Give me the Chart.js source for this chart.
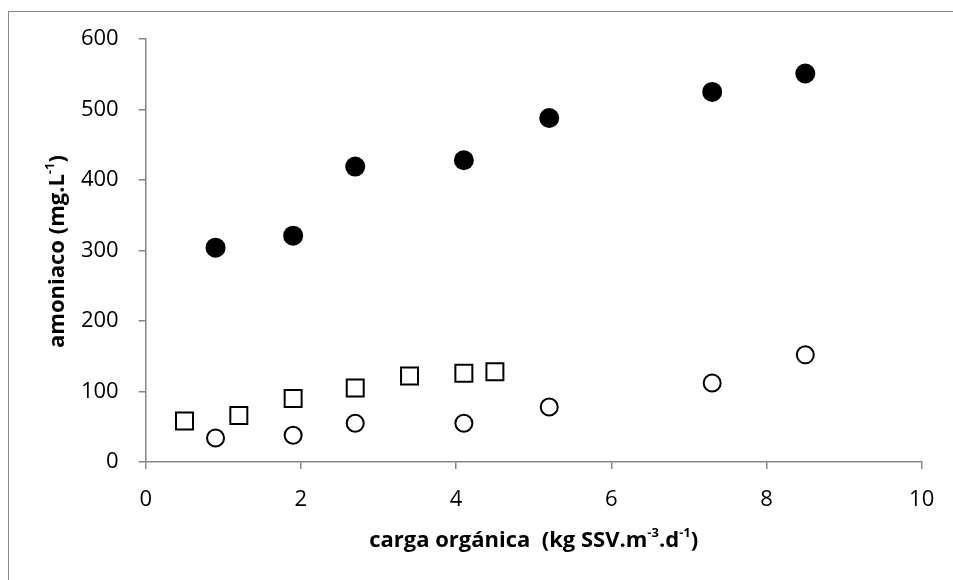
<!DOCTYPE html>
<html>
<head>
<meta charset="utf-8">
<script src="https://cdn.jsdelivr.net/npm/chart.js@4"></script>
<style>
  html, body { margin: 0; padding: 0; background: #fff; overflow: hidden; }
  #wrap { position: relative; width: 953px; height: 580px; }
  #marco { position: absolute; left: 8px; top: 11px; width: 980px; height: 620px; border: 1px solid #8a8a8a; box-sizing: border-box; }
  canvas { position: absolute; left: 0; top: 0; }
</style>
</head>
<body>
<div id="wrap">
  <div id="marco"></div>
  <canvas id="amoniacoChart" width="953" height="580"></canvas>
</div>
<script>
// carga orgánica (kg SSV.m-3.d-1) y amoniaco (mg/L)
const cargaLleno = [0.9, 1.9, 2.7, 4.1, 5.2, 7.3, 8.5];
const amoniacoLleno = [304, 321, 419, 428, 488, 525, 551];

const cargaVacio = [0.9, 1.9, 2.7, 4.1, 5.2, 7.3, 8.5];
const amoniacoVacio = [34, 38, 55, 55, 78, 112, 152];

const cargaCuadro = [0.5, 1.2, 1.9, 2.7, 3.4, 4.1, 4.5];
const amoniacoCuadro = [58, 66, 90, 105, 122, 126, 128];

const ejeX = { min: 0, max: 10, paso: 2 };
const ejeY = { min: 0, max: 600, paso: 100 };

// títulos con superíndices: [texto, esSuperindice]
const tituloX = [['carga orgánica  (kg SSV.m', false], ['-3', true], ['.d', false], ['-1', true], [')', false]];
const tituloY = [['amoniaco (mg.L', false], ['-1', true], [')', false]];

const puntos = (xs, ys) => xs.map((x, i) => ({ x: x, y: ys[i] }));

const gris = '#868686';
const fuente = "'Open Sans', 'DejaVu Sans', sans-serif";

// dibuja un texto con partes en superíndice, centrado en (0,0)
function textoRico(c, partes) {
  const normal = `bold 22px ${fuente}`;
  const sup = `bold 13px ${fuente}`;
  let ancho = 0;
  partes.forEach(([t, s]) => { c.font = s ? sup : normal; ancho += c.measureText(t).width; });
  let x = -ancho / 2;
  c.textBaseline = 'middle';
  c.textAlign = 'left';
  c.fillStyle = '#000';
  partes.forEach(([t, s]) => {
    c.font = s ? sup : normal;
    c.fillText(t, x, s ? -8 : 0);
    x += c.measureText(t).width;
  });
}

const titulosEjes = {
  id: 'titulosEjes',
  afterDraw(chart) {
    const c = chart.ctx;
    const area = chart.chartArea;
    c.save();
    c.translate((area.left + area.right) / 2, 541);
    textoRico(c, tituloX);
    c.restore();

    c.save();
    c.translate(58, (area.top + area.bottom) / 2 + 1);
    c.rotate(-Math.PI / 2);
    textoRico(c, tituloY);
    c.restore();
  }
};

const ctx = document.getElementById('amoniacoChart').getContext('2d');

new Chart(ctx, {
  type: 'scatter',
  data: {
    datasets: [
      {
        data: puntos(cargaLleno, amoniacoLleno),
        pointStyle: 'circle',
        pointRadius: 10,
        backgroundColor: '#000',
        borderColor: '#000',
        borderWidth: 0
      },
      {
        data: puntos(cargaVacio, amoniacoVacio),
        pointStyle: 'circle',
        pointRadius: 8.5,
        backgroundColor: '#fff',
        borderColor: '#000',
        borderWidth: 2
      },
      {
        data: puntos(cargaCuadro, amoniacoCuadro),
        pointStyle: 'rect',
        pointRadius: 12,
        backgroundColor: '#fff',
        borderColor: '#000',
        borderWidth: 2
      }
    ]
  },
  options: {
    responsive: false,
    animation: false,
    layout: { padding: { left: 0, top: 39, right: 31.3, bottom: 0 } },
    plugins: {
      legend: { display: false },
      tooltip: { enabled: false }
    },
    scales: {
      x: {
        type: 'linear',
        min: ejeX.min,
        max: ejeX.max,
        afterFit: (scale) => { scale.height = 118; },
        ticks: {
          stepSize: ejeX.paso,
          padding: 18,
          color: '#000',
          font: { family: fuente, size: 22 }
        },
        grid: { drawOnChartArea: false, drawTicks: true, tickLength: 7, color: gris, lineWidth: 1.5 },
        border: { color: gris, width: 1.5 }
      },
      y: {
        type: 'linear',
        min: ejeY.min,
        max: ejeY.max,
        afterFit: (scale) => { scale.width = 145.7; },
        ticks: {
          stepSize: ejeY.paso,
          padding: 20,
          color: '#000',
          font: { family: fuente, size: 22 }
        },
        grid: { drawOnChartArea: false, drawTicks: true, tickLength: 7, color: gris, lineWidth: 1.5 },
        border: { color: gris, width: 1.5 }
      }
    }
  },
  plugins: [titulosEjes]
});
</script>
</body>
</html>
